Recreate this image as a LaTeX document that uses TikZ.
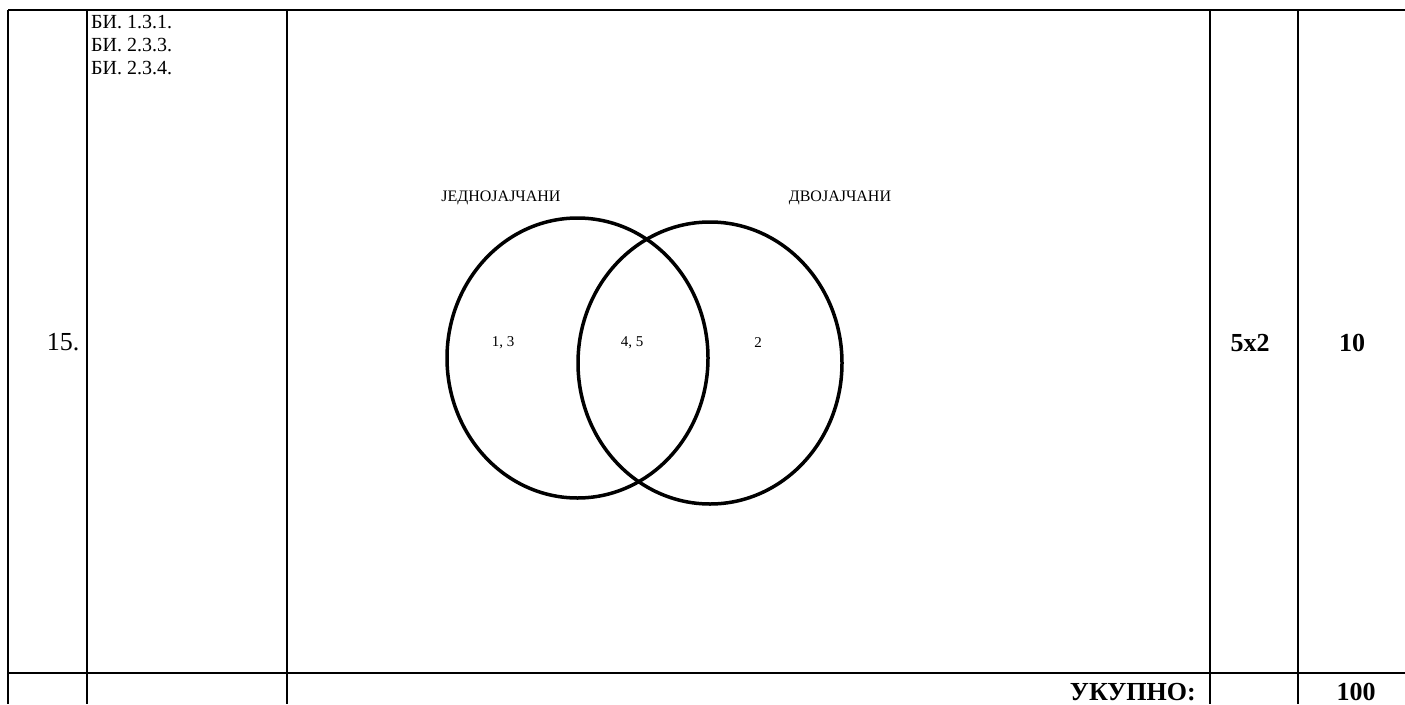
\documentclass[tikz,border=0pt]{standalone}
\usepackage{fontspec}
\setmainfont{Liberation Serif}
\usetikzlibrary{shapes.geometric}
\begin{document}
\begin{tikzpicture}[x=1pt,y=-1pt,
  rule/.style={line width=2.8pt},
  venn/.style={draw,ellipse,line width=3.5pt,inner sep=0pt},
  small/.style={font=\fontsize{15}{17}\selectfont,inner sep=0pt},
  label/.style={font=\fontsize{16}{18}\selectfont,inner sep=0pt},
  body/.style={font=\fontsize{26}{30}\selectfont,inner sep=0pt},
  bbody/.style={font=\fontsize{26}{30}\selectfont\bfseries,inner sep=0pt}]
\useasboundingbox (0,0) rectangle (1405,704);
% table grid
\coordinate (tl) at (8,10);
\coordinate (tr) at (1405,10);
\coordinate (ml) at (8,673);
\coordinate (mr) at (1405,673);
\draw[rule] (tl) -- (tr);
\draw[rule] (ml) -- (mr);
\foreach \x/\n in {8/a,87/b,287/c,1210/d,1298/e}{
  \coordinate (top\n) at (\x,10);
  \coordinate (bot\n) at (\x,704);
  \draw[rule] (top\n) -- (bot\n);
}
% left columns
\node[body,anchor=base] (num) at (63,350) {15.};
\node[anchor=north west,align=left,inner sep=0pt,
  font=\fontsize{20}{23}\selectfont] (codes) at (91,15)
  {БИ. 1.3.1.\\БИ. 2.3.3.\\БИ. 2.3.4.};
% venn
\node[venn,minimum width=261pt,minimum height=280pt] (A) at (577.5,358) {};
\node[venn,minimum width=264pt,minimum height=282pt] (B) at (710,363) {};
\node[label] (la) at (501,198) {ЈЕДНОЈАЈЧАНИ};
\node[label] (lb) at (840,198) {ДВОЈАЈЧАНИ};
\node[small] (v1) at (503,343) {1, 3};
\node[small] (v2) at (632,343) {4, 5};
\node[small] (v3) at (758,343) {2};
% points
\node[bbody,anchor=base] (pts) at (1250,351) {5x2};
\node[bbody,anchor=base] (tot) at (1352,351) {10};
% total row
\node[bbody,anchor=base east] (uk) at (1196,700) {УКУПНО:};
\node[bbody,anchor=base] (sum) at (1356,700) {100};
\end{tikzpicture}
\end{document}
